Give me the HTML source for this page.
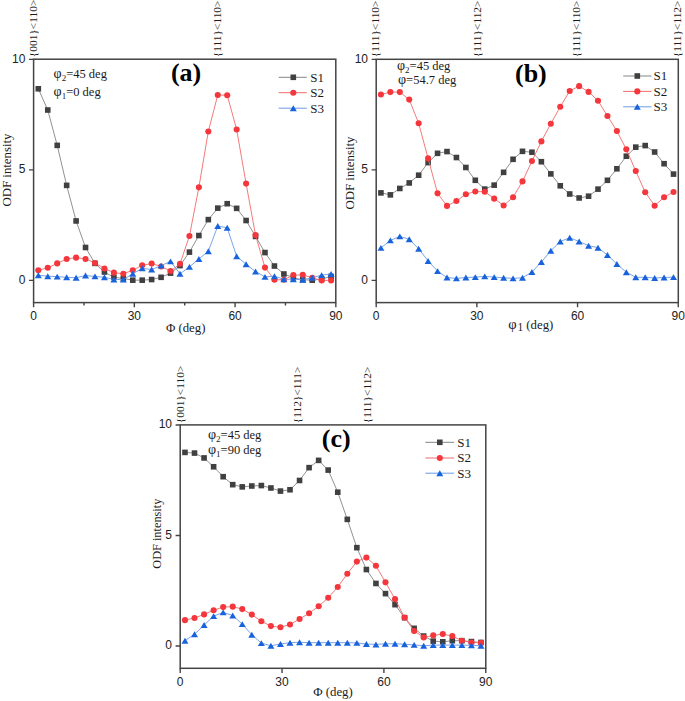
<!DOCTYPE html>
<html><head><meta charset="utf-8"><style>html,body{margin:0;padding:0;background:#fff}body{width:685px;height:701px;overflow:hidden}svg{display:block}</style></head><body>
<svg width="685" height="701" viewBox="0 0 685 701">
<style>text{font-family:"Liberation Serif",serif;fill:#1a1a1a}.tl{font-family:"Liberation Sans",sans-serif;font-size:12px;fill:#222}.ann{font-size:11.4px}.lab{font-size:12.8px}.big{font-size:26px;font-weight:bold;fill:#000}.leg{font-size:13px}.par{font-size:12.5px}</style>
<rect width="685" height="701" fill="#fff"/>
<polyline fill="none" stroke="#858585" stroke-width="0.9" points="38.32,88.79 47.77,110.01 57.21,145.37 66.66,185.37 76.1,220.95 85.54,247.47 94.99,263.38 104.43,272 113.88,277.31 123.32,278.41 132.77,280.18 142.21,280.18 151.65,279.52 161.1,277.31 170.54,273.11 179.99,265.59 189.43,252.11 198.88,235.54 208.32,219.62 217.77,208.13 227.21,203.71 236.65,208.35 246.1,220.51 255.54,236.42 264.99,252.55 274.43,266.03 283.88,273.99 293.32,277.75 302.76,279.74 312.21,280.18 321.65,279.07 331.1,276.42"/>
<rect x="35.52" y="85.99" width="5.6" height="5.6" fill="#404040"/><rect x="44.97" y="107.21" width="5.6" height="5.6" fill="#404040"/><rect x="54.41" y="142.57" width="5.6" height="5.6" fill="#404040"/><rect x="63.86" y="182.57" width="5.6" height="5.6" fill="#404040"/><rect x="73.3" y="218.15" width="5.6" height="5.6" fill="#404040"/><rect x="82.74" y="244.67" width="5.6" height="5.6" fill="#404040"/><rect x="92.19" y="260.58" width="5.6" height="5.6" fill="#404040"/><rect x="101.63" y="269.2" width="5.6" height="5.6" fill="#404040"/><rect x="111.08" y="274.51" width="5.6" height="5.6" fill="#404040"/><rect x="120.52" y="275.61" width="5.6" height="5.6" fill="#404040"/><rect x="129.97" y="277.38" width="5.6" height="5.6" fill="#404040"/><rect x="139.41" y="277.38" width="5.6" height="5.6" fill="#404040"/><rect x="148.85" y="276.72" width="5.6" height="5.6" fill="#404040"/><rect x="158.3" y="274.51" width="5.6" height="5.6" fill="#404040"/><rect x="167.74" y="270.31" width="5.6" height="5.6" fill="#404040"/><rect x="177.19" y="262.79" width="5.6" height="5.6" fill="#404040"/><rect x="186.63" y="249.31" width="5.6" height="5.6" fill="#404040"/><rect x="196.08" y="232.74" width="5.6" height="5.6" fill="#404040"/><rect x="205.52" y="216.82" width="5.6" height="5.6" fill="#404040"/><rect x="214.97" y="205.33" width="5.6" height="5.6" fill="#404040"/><rect x="224.41" y="200.91" width="5.6" height="5.6" fill="#404040"/><rect x="233.85" y="205.55" width="5.6" height="5.6" fill="#404040"/><rect x="243.3" y="217.71" width="5.6" height="5.6" fill="#404040"/><rect x="252.74" y="233.62" width="5.6" height="5.6" fill="#404040"/><rect x="262.19" y="249.75" width="5.6" height="5.6" fill="#404040"/><rect x="271.63" y="263.23" width="5.6" height="5.6" fill="#404040"/><rect x="281.08" y="271.19" width="5.6" height="5.6" fill="#404040"/><rect x="290.52" y="274.95" width="5.6" height="5.6" fill="#404040"/><rect x="299.96" y="276.94" width="5.6" height="5.6" fill="#404040"/><rect x="309.41" y="277.38" width="5.6" height="5.6" fill="#404040"/><rect x="318.85" y="276.27" width="5.6" height="5.6" fill="#404040"/><rect x="328.3" y="273.62" width="5.6" height="5.6" fill="#404040"/>
<polyline fill="none" stroke="#f36a6a" stroke-width="0.9" points="38.32,270.23 47.77,267.8 57.21,263.38 66.66,258.96 76.1,257.64 85.54,258.96 94.99,262.94 104.43,268.47 113.88,272.66 123.32,273.77 132.77,270.23 142.21,265.37 151.65,263.6 161.1,266.48 170.54,271.12 179.99,263.82 189.43,235.98 198.88,187.36 208.32,131.45 217.77,94.98 227.21,95.2 236.65,129.46 246.1,183.6 255.54,235.09 264.99,267.58 274.43,279.74 283.88,279.74 293.32,275.1 302.76,274.88 312.21,277.75 321.65,280.4 331.1,280.4"/>
<circle cx="38.32" cy="270.23" r="3.05" fill="#f4373c"/><circle cx="47.77" cy="267.8" r="3.05" fill="#f4373c"/><circle cx="57.21" cy="263.38" r="3.05" fill="#f4373c"/><circle cx="66.66" cy="258.96" r="3.05" fill="#f4373c"/><circle cx="76.1" cy="257.64" r="3.05" fill="#f4373c"/><circle cx="85.54" cy="258.96" r="3.05" fill="#f4373c"/><circle cx="94.99" cy="262.94" r="3.05" fill="#f4373c"/><circle cx="104.43" cy="268.47" r="3.05" fill="#f4373c"/><circle cx="113.88" cy="272.66" r="3.05" fill="#f4373c"/><circle cx="123.32" cy="273.77" r="3.05" fill="#f4373c"/><circle cx="132.77" cy="270.23" r="3.05" fill="#f4373c"/><circle cx="142.21" cy="265.37" r="3.05" fill="#f4373c"/><circle cx="151.65" cy="263.6" r="3.05" fill="#f4373c"/><circle cx="161.1" cy="266.48" r="3.05" fill="#f4373c"/><circle cx="170.54" cy="271.12" r="3.05" fill="#f4373c"/><circle cx="179.99" cy="263.82" r="3.05" fill="#f4373c"/><circle cx="189.43" cy="235.98" r="3.05" fill="#f4373c"/><circle cx="198.88" cy="187.36" r="3.05" fill="#f4373c"/><circle cx="208.32" cy="131.45" r="3.05" fill="#f4373c"/><circle cx="217.77" cy="94.98" r="3.05" fill="#f4373c"/><circle cx="227.21" cy="95.2" r="3.05" fill="#f4373c"/><circle cx="236.65" cy="129.46" r="3.05" fill="#f4373c"/><circle cx="246.1" cy="183.6" r="3.05" fill="#f4373c"/><circle cx="255.54" cy="235.09" r="3.05" fill="#f4373c"/><circle cx="264.99" cy="267.58" r="3.05" fill="#f4373c"/><circle cx="274.43" cy="279.74" r="3.05" fill="#f4373c"/><circle cx="283.88" cy="279.74" r="3.05" fill="#f4373c"/><circle cx="293.32" cy="275.1" r="3.05" fill="#f4373c"/><circle cx="302.76" cy="274.88" r="3.05" fill="#f4373c"/><circle cx="312.21" cy="277.75" r="3.05" fill="#f4373c"/><circle cx="321.65" cy="280.4" r="3.05" fill="#f4373c"/><circle cx="331.1" cy="280.4" r="3.05" fill="#f4373c"/>
<polyline fill="none" stroke="#6a9ae8" stroke-width="0.9" points="38.32,275.32 47.77,276.2 57.21,276.64 66.66,277.31 76.1,277.75 85.54,275.54 94.99,276.42 104.43,277.31 113.88,279.52 123.32,279.52 132.77,273.77 142.21,268.25 151.65,269.57 161.1,265.59 170.54,261.39 179.99,273.77 189.43,266.92 198.88,258.96 208.32,251.23 217.77,226.03 227.21,227.8 236.65,256.31 246.1,264.27 255.54,271.56 264.99,276.86 274.43,276.2 283.88,279.29 293.32,279.29 302.76,279.74 312.21,277.75 321.65,275.1 331.1,273.99"/>
<path d="M38.32 272.37L41.82 278.27L34.82 278.27Z" fill="#1863dc"/><path d="M47.77 273.25L51.27 279.15L44.27 279.15Z" fill="#1863dc"/><path d="M57.21 273.69L60.71 279.59L53.71 279.59Z" fill="#1863dc"/><path d="M66.66 274.36L70.16 280.26L63.16 280.26Z" fill="#1863dc"/><path d="M76.1 274.8L79.6 280.7L72.6 280.7Z" fill="#1863dc"/><path d="M85.54 272.59L89.04 278.49L82.04 278.49Z" fill="#1863dc"/><path d="M94.99 273.47L98.49 279.37L91.49 279.37Z" fill="#1863dc"/><path d="M104.43 274.36L107.93 280.26L100.93 280.26Z" fill="#1863dc"/><path d="M113.88 276.57L117.38 282.47L110.38 282.47Z" fill="#1863dc"/><path d="M123.32 276.57L126.82 282.47L119.82 282.47Z" fill="#1863dc"/><path d="M132.77 270.82L136.27 276.72L129.27 276.72Z" fill="#1863dc"/><path d="M142.21 265.3L145.71 271.19L138.71 271.19Z" fill="#1863dc"/><path d="M151.65 266.62L155.15 272.52L148.15 272.52Z" fill="#1863dc"/><path d="M161.1 262.64L164.6 268.54L157.6 268.54Z" fill="#1863dc"/><path d="M170.54 258.44L174.04 264.34L167.04 264.34Z" fill="#1863dc"/><path d="M179.99 270.82L183.49 276.72L176.49 276.72Z" fill="#1863dc"/><path d="M189.43 263.97L192.93 269.87L185.93 269.87Z" fill="#1863dc"/><path d="M198.88 256.01L202.38 261.91L195.38 261.91Z" fill="#1863dc"/><path d="M208.32 248.28L211.82 254.18L204.82 254.18Z" fill="#1863dc"/><path d="M217.77 223.08L221.27 228.98L214.27 228.98Z" fill="#1863dc"/><path d="M227.21 224.85L230.71 230.75L223.71 230.75Z" fill="#1863dc"/><path d="M236.65 253.36L240.15 259.26L233.15 259.26Z" fill="#1863dc"/><path d="M246.1 261.32L249.6 267.22L242.6 267.22Z" fill="#1863dc"/><path d="M255.54 268.61L259.04 274.51L252.04 274.51Z" fill="#1863dc"/><path d="M264.99 273.91L268.49 279.81L261.49 279.81Z" fill="#1863dc"/><path d="M274.43 273.25L277.93 279.15L270.93 279.15Z" fill="#1863dc"/><path d="M283.88 276.34L287.38 282.24L280.38 282.24Z" fill="#1863dc"/><path d="M293.32 276.34L296.82 282.24L289.82 282.24Z" fill="#1863dc"/><path d="M302.76 276.79L306.26 282.69L299.26 282.69Z" fill="#1863dc"/><path d="M312.21 274.8L315.71 280.7L308.71 280.7Z" fill="#1863dc"/><path d="M321.65 272.15L325.15 278.05L318.15 278.05Z" fill="#1863dc"/><path d="M331.1 271.04L334.6 276.94L327.6 276.94Z" fill="#1863dc"/>
<rect x="33.6" y="59.2" width="302.2" height="243.4" fill="none" stroke="#444444" stroke-width="1.5"/>
<path d="M33.6 302.6V307.2M134.34 302.6V307.2M235.08 302.6V307.2M335.82 302.6V307.2M83.97 302.6V305.4M184.71 302.6V305.4M285.45 302.6V305.4M33.6 280.4H29M33.6 169.9H29M33.6 59.4H29" stroke="#444444" stroke-width="1.4" fill="none"/>
<text x="33.6" y="319.9" class="tl" text-anchor="middle">0</text>
<text x="134.34" y="319.9" class="tl" text-anchor="middle">30</text>
<text x="235.08" y="319.9" class="tl" text-anchor="middle">60</text>
<text x="335.82" y="319.9" class="tl" text-anchor="middle">90</text>
<text x="25.4" y="283.8" class="tl" text-anchor="end">0</text>
<text x="25.4" y="173.3" class="tl" text-anchor="end">5</text>
<text x="25.4" y="62.8" class="tl" text-anchor="end">10</text>
<polyline fill="none" stroke="#858585" stroke-width="0.9" points="380.92,192.88 390.36,194.87 399.8,188.46 409.24,182.94 418.67,175.2 428.11,162.61 437.55,153.32 446.99,151.56 456.43,157.52 465.87,167.47 475.31,180.29 484.75,189.13 494.18,185.15 503.62,172.33 513.06,159.29 522.5,151.34 531.94,152.22 541.38,161.72 550.82,173.88 560.26,185.81 569.69,193.99 579.13,197.97 588.57,196.2 598.01,189.13 607.45,180.29 616.89,168.79 626.33,156.2 635.77,147.14 645.2,145.59 654.64,152 664.08,163.71 673.52,174.1"/>
<rect x="378.12" y="190.08" width="5.6" height="5.6" fill="#404040"/><rect x="387.56" y="192.07" width="5.6" height="5.6" fill="#404040"/><rect x="397" y="185.66" width="5.6" height="5.6" fill="#404040"/><rect x="406.44" y="180.14" width="5.6" height="5.6" fill="#404040"/><rect x="415.87" y="172.4" width="5.6" height="5.6" fill="#404040"/><rect x="425.31" y="159.81" width="5.6" height="5.6" fill="#404040"/><rect x="434.75" y="150.52" width="5.6" height="5.6" fill="#404040"/><rect x="444.19" y="148.76" width="5.6" height="5.6" fill="#404040"/><rect x="453.63" y="154.72" width="5.6" height="5.6" fill="#404040"/><rect x="463.07" y="164.67" width="5.6" height="5.6" fill="#404040"/><rect x="472.51" y="177.49" width="5.6" height="5.6" fill="#404040"/><rect x="481.95" y="186.33" width="5.6" height="5.6" fill="#404040"/><rect x="491.38" y="182.35" width="5.6" height="5.6" fill="#404040"/><rect x="500.82" y="169.53" width="5.6" height="5.6" fill="#404040"/><rect x="510.26" y="156.49" width="5.6" height="5.6" fill="#404040"/><rect x="519.7" y="148.54" width="5.6" height="5.6" fill="#404040"/><rect x="529.14" y="149.42" width="5.6" height="5.6" fill="#404040"/><rect x="538.58" y="158.92" width="5.6" height="5.6" fill="#404040"/><rect x="548.02" y="171.08" width="5.6" height="5.6" fill="#404040"/><rect x="557.46" y="183.01" width="5.6" height="5.6" fill="#404040"/><rect x="566.89" y="191.19" width="5.6" height="5.6" fill="#404040"/><rect x="576.33" y="195.17" width="5.6" height="5.6" fill="#404040"/><rect x="585.77" y="193.4" width="5.6" height="5.6" fill="#404040"/><rect x="595.21" y="186.33" width="5.6" height="5.6" fill="#404040"/><rect x="604.65" y="177.49" width="5.6" height="5.6" fill="#404040"/><rect x="614.09" y="165.99" width="5.6" height="5.6" fill="#404040"/><rect x="623.53" y="153.4" width="5.6" height="5.6" fill="#404040"/><rect x="632.97" y="144.34" width="5.6" height="5.6" fill="#404040"/><rect x="642.4" y="142.79" width="5.6" height="5.6" fill="#404040"/><rect x="651.84" y="149.2" width="5.6" height="5.6" fill="#404040"/><rect x="661.28" y="160.91" width="5.6" height="5.6" fill="#404040"/><rect x="670.72" y="171.3" width="5.6" height="5.6" fill="#404040"/>
<polyline fill="none" stroke="#f36a6a" stroke-width="0.9" points="380.92,94.54 390.36,92.11 399.8,92.11 409.24,99.62 418.67,123.27 428.11,158.41 437.55,193.33 446.99,205.92 456.43,201.06 465.87,194.21 475.31,191.56 484.75,191.78 494.18,198.63 503.62,205.48 513.06,197.3 522.5,181.39 531.94,161.06 541.38,141.39 550.82,123.71 560.26,106.69 569.69,91 579.13,86.14 588.57,91.89 598.01,100.73 607.45,115.98 616.89,131 626.33,149.35 635.77,171 645.2,192.22 654.64,205.7 664.08,197.3 673.52,192"/>
<circle cx="380.92" cy="94.54" r="3.05" fill="#f4373c"/><circle cx="390.36" cy="92.11" r="3.05" fill="#f4373c"/><circle cx="399.8" cy="92.11" r="3.05" fill="#f4373c"/><circle cx="409.24" cy="99.62" r="3.05" fill="#f4373c"/><circle cx="418.67" cy="123.27" r="3.05" fill="#f4373c"/><circle cx="428.11" cy="158.41" r="3.05" fill="#f4373c"/><circle cx="437.55" cy="193.33" r="3.05" fill="#f4373c"/><circle cx="446.99" cy="205.92" r="3.05" fill="#f4373c"/><circle cx="456.43" cy="201.06" r="3.05" fill="#f4373c"/><circle cx="465.87" cy="194.21" r="3.05" fill="#f4373c"/><circle cx="475.31" cy="191.56" r="3.05" fill="#f4373c"/><circle cx="484.75" cy="191.78" r="3.05" fill="#f4373c"/><circle cx="494.18" cy="198.63" r="3.05" fill="#f4373c"/><circle cx="503.62" cy="205.48" r="3.05" fill="#f4373c"/><circle cx="513.06" cy="197.3" r="3.05" fill="#f4373c"/><circle cx="522.5" cy="181.39" r="3.05" fill="#f4373c"/><circle cx="531.94" cy="161.06" r="3.05" fill="#f4373c"/><circle cx="541.38" cy="141.39" r="3.05" fill="#f4373c"/><circle cx="550.82" cy="123.71" r="3.05" fill="#f4373c"/><circle cx="560.26" cy="106.69" r="3.05" fill="#f4373c"/><circle cx="569.69" cy="91" r="3.05" fill="#f4373c"/><circle cx="579.13" cy="86.14" r="3.05" fill="#f4373c"/><circle cx="588.57" cy="91.89" r="3.05" fill="#f4373c"/><circle cx="598.01" cy="100.73" r="3.05" fill="#f4373c"/><circle cx="607.45" cy="115.98" r="3.05" fill="#f4373c"/><circle cx="616.89" cy="131" r="3.05" fill="#f4373c"/><circle cx="626.33" cy="149.35" r="3.05" fill="#f4373c"/><circle cx="635.77" cy="171" r="3.05" fill="#f4373c"/><circle cx="645.2" cy="192.22" r="3.05" fill="#f4373c"/><circle cx="654.64" cy="205.7" r="3.05" fill="#f4373c"/><circle cx="664.08" cy="197.3" r="3.05" fill="#f4373c"/><circle cx="673.52" cy="192" r="3.05" fill="#f4373c"/>
<polyline fill="none" stroke="#6a9ae8" stroke-width="0.9" points="380.92,247.91 390.36,240.4 399.8,236.42 409.24,239.29 418.67,248.8 428.11,260.95 437.55,271.12 446.99,277.53 456.43,278.41 465.87,277.53 475.31,277.08 484.75,276.42 494.18,277.08 503.62,277.75 513.06,278.41 522.5,277.75 531.94,272 541.38,262.06 550.82,250.79 560.26,241.5 569.69,237.75 579.13,241.5 588.57,245.7 598.01,247.69 607.45,254.98 616.89,264.05 626.33,272.22 635.77,277.31 645.2,277.31 654.64,277.97 664.08,277.53 673.52,277.08"/>
<path d="M380.92 244.96L384.42 250.86L377.42 250.86Z" fill="#1863dc"/><path d="M390.36 237.45L393.86 243.35L386.86 243.35Z" fill="#1863dc"/><path d="M399.8 233.47L403.3 239.37L396.3 239.37Z" fill="#1863dc"/><path d="M409.24 236.34L412.74 242.24L405.74 242.24Z" fill="#1863dc"/><path d="M418.67 245.85L422.17 251.75L415.17 251.75Z" fill="#1863dc"/><path d="M428.11 258L431.61 263.9L424.61 263.9Z" fill="#1863dc"/><path d="M437.55 268.17L441.05 274.07L434.05 274.07Z" fill="#1863dc"/><path d="M446.99 274.58L450.49 280.48L443.49 280.48Z" fill="#1863dc"/><path d="M456.43 275.46L459.93 281.36L452.93 281.36Z" fill="#1863dc"/><path d="M465.87 274.58L469.37 280.48L462.37 280.48Z" fill="#1863dc"/><path d="M475.31 274.13L478.81 280.03L471.81 280.03Z" fill="#1863dc"/><path d="M484.75 273.47L488.25 279.37L481.25 279.37Z" fill="#1863dc"/><path d="M494.18 274.13L497.68 280.03L490.68 280.03Z" fill="#1863dc"/><path d="M503.62 274.8L507.12 280.7L500.12 280.7Z" fill="#1863dc"/><path d="M513.06 275.46L516.56 281.36L509.56 281.36Z" fill="#1863dc"/><path d="M522.5 274.8L526 280.7L519 280.7Z" fill="#1863dc"/><path d="M531.94 269.05L535.44 274.95L528.44 274.95Z" fill="#1863dc"/><path d="M541.38 259.11L544.88 265.01L537.88 265.01Z" fill="#1863dc"/><path d="M550.82 247.84L554.32 253.74L547.32 253.74Z" fill="#1863dc"/><path d="M560.26 238.55L563.76 244.45L556.76 244.45Z" fill="#1863dc"/><path d="M569.69 234.8L573.19 240.7L566.19 240.7Z" fill="#1863dc"/><path d="M579.13 238.55L582.63 244.45L575.63 244.45Z" fill="#1863dc"/><path d="M588.57 242.75L592.07 248.65L585.07 248.65Z" fill="#1863dc"/><path d="M598.01 244.74L601.51 250.64L594.51 250.64Z" fill="#1863dc"/><path d="M607.45 252.03L610.95 257.94L603.95 257.94Z" fill="#1863dc"/><path d="M616.89 261.1L620.39 267L613.39 267Z" fill="#1863dc"/><path d="M626.33 269.27L629.83 275.17L622.83 275.17Z" fill="#1863dc"/><path d="M635.77 274.36L639.27 280.26L632.27 280.26Z" fill="#1863dc"/><path d="M645.2 274.36L648.7 280.26L641.7 280.26Z" fill="#1863dc"/><path d="M654.64 275.02L658.14 280.92L651.14 280.92Z" fill="#1863dc"/><path d="M664.08 274.58L667.58 280.48L660.58 280.48Z" fill="#1863dc"/><path d="M673.52 274.13L677.02 280.03L670.02 280.03Z" fill="#1863dc"/>
<rect x="376.2" y="59.3" width="302.1" height="243.3" fill="none" stroke="#444444" stroke-width="1.5"/>
<path d="M376.2 302.6V307.2M476.88 302.6V307.2M577.56 302.6V307.2M678.24 302.6V307.2M376.2 280.4H371.6M376.2 169.9H371.6M376.2 59.4H371.6" stroke="#444444" stroke-width="1.4" fill="none"/>
<text x="376.2" y="319.9" class="tl" text-anchor="middle">0</text>
<text x="476.88" y="319.9" class="tl" text-anchor="middle">30</text>
<text x="577.56" y="319.9" class="tl" text-anchor="middle">60</text>
<text x="678.24" y="319.9" class="tl" text-anchor="middle">90</text>
<text x="368" y="283.8" class="tl" text-anchor="end">0</text>
<text x="368" y="173.3" class="tl" text-anchor="end">5</text>
<text x="368" y="62.8" class="tl" text-anchor="end">10</text>
<polyline fill="none" stroke="#858585" stroke-width="0.9" points="184.97,452.4 194.52,453.07 204.07,457.93 213.62,466.77 223.17,476.71 232.72,484.67 242.26,486.88 251.81,486 261.36,485.55 270.91,487.99 280.46,491.08 290.01,489.75 299.56,480.47 309.1,467.65 318.65,460.36 328.2,470.08 337.75,492.18 347.3,519.37 356.85,547.65 366.39,569.53 375.94,583.46 385.49,593.62 395.04,604.67 404.59,617.71 414.14,628.32 423.69,636.05 433.23,641.14 442.78,641.8 452.33,640.7 461.88,640.7 471.43,641.58 480.98,642.46"/>
<rect x="182.17" y="449.6" width="5.6" height="5.6" fill="#404040"/><rect x="191.72" y="450.27" width="5.6" height="5.6" fill="#404040"/><rect x="201.27" y="455.13" width="5.6" height="5.6" fill="#404040"/><rect x="210.82" y="463.97" width="5.6" height="5.6" fill="#404040"/><rect x="220.37" y="473.91" width="5.6" height="5.6" fill="#404040"/><rect x="229.92" y="481.87" width="5.6" height="5.6" fill="#404040"/><rect x="239.46" y="484.08" width="5.6" height="5.6" fill="#404040"/><rect x="249.01" y="483.2" width="5.6" height="5.6" fill="#404040"/><rect x="258.56" y="482.75" width="5.6" height="5.6" fill="#404040"/><rect x="268.11" y="485.19" width="5.6" height="5.6" fill="#404040"/><rect x="277.66" y="488.28" width="5.6" height="5.6" fill="#404040"/><rect x="287.21" y="486.95" width="5.6" height="5.6" fill="#404040"/><rect x="296.76" y="477.67" width="5.6" height="5.6" fill="#404040"/><rect x="306.3" y="464.85" width="5.6" height="5.6" fill="#404040"/><rect x="315.85" y="457.56" width="5.6" height="5.6" fill="#404040"/><rect x="325.4" y="467.28" width="5.6" height="5.6" fill="#404040"/><rect x="334.95" y="489.38" width="5.6" height="5.6" fill="#404040"/><rect x="344.5" y="516.57" width="5.6" height="5.6" fill="#404040"/><rect x="354.05" y="544.86" width="5.6" height="5.6" fill="#404040"/><rect x="363.59" y="566.73" width="5.6" height="5.6" fill="#404040"/><rect x="373.14" y="580.66" width="5.6" height="5.6" fill="#404040"/><rect x="382.69" y="590.82" width="5.6" height="5.6" fill="#404040"/><rect x="392.24" y="601.87" width="5.6" height="5.6" fill="#404040"/><rect x="401.79" y="614.91" width="5.6" height="5.6" fill="#404040"/><rect x="411.34" y="625.52" width="5.6" height="5.6" fill="#404040"/><rect x="420.89" y="633.25" width="5.6" height="5.6" fill="#404040"/><rect x="430.43" y="638.34" width="5.6" height="5.6" fill="#404040"/><rect x="439.98" y="639" width="5.6" height="5.6" fill="#404040"/><rect x="449.53" y="637.9" width="5.6" height="5.6" fill="#404040"/><rect x="459.08" y="637.9" width="5.6" height="5.6" fill="#404040"/><rect x="468.63" y="638.78" width="5.6" height="5.6" fill="#404040"/><rect x="478.18" y="639.66" width="5.6" height="5.6" fill="#404040"/>
<polyline fill="none" stroke="#f36a6a" stroke-width="0.9" points="184.97,620.14 194.52,617.93 204.07,614.4 213.62,610.2 223.17,607.1 232.72,606.66 242.26,609.09 251.81,614.62 261.36,621.25 270.91,626.11 280.46,627.22 290.01,624.56 299.56,619.04 309.1,613.29 318.65,606.22 328.2,597.82 337.75,586.99 347.3,573.73 356.85,561.58 366.39,557.6 375.94,565.78 385.49,582.35 395.04,599.15 404.59,617.49 414.14,630.97 423.69,637.38 433.23,635.39 442.78,634.07 452.33,636.05 461.88,640.7 471.43,642.46 480.98,642.91"/>
<circle cx="184.97" cy="620.14" r="3.05" fill="#f4373c"/><circle cx="194.52" cy="617.93" r="3.05" fill="#f4373c"/><circle cx="204.07" cy="614.4" r="3.05" fill="#f4373c"/><circle cx="213.62" cy="610.2" r="3.05" fill="#f4373c"/><circle cx="223.17" cy="607.1" r="3.05" fill="#f4373c"/><circle cx="232.72" cy="606.66" r="3.05" fill="#f4373c"/><circle cx="242.26" cy="609.09" r="3.05" fill="#f4373c"/><circle cx="251.81" cy="614.62" r="3.05" fill="#f4373c"/><circle cx="261.36" cy="621.25" r="3.05" fill="#f4373c"/><circle cx="270.91" cy="626.11" r="3.05" fill="#f4373c"/><circle cx="280.46" cy="627.22" r="3.05" fill="#f4373c"/><circle cx="290.01" cy="624.56" r="3.05" fill="#f4373c"/><circle cx="299.56" cy="619.04" r="3.05" fill="#f4373c"/><circle cx="309.1" cy="613.29" r="3.05" fill="#f4373c"/><circle cx="318.65" cy="606.22" r="3.05" fill="#f4373c"/><circle cx="328.2" cy="597.82" r="3.05" fill="#f4373c"/><circle cx="337.75" cy="586.99" r="3.05" fill="#f4373c"/><circle cx="347.3" cy="573.73" r="3.05" fill="#f4373c"/><circle cx="356.85" cy="561.58" r="3.05" fill="#f4373c"/><circle cx="366.39" cy="557.6" r="3.05" fill="#f4373c"/><circle cx="375.94" cy="565.78" r="3.05" fill="#f4373c"/><circle cx="385.49" cy="582.35" r="3.05" fill="#f4373c"/><circle cx="395.04" cy="599.15" r="3.05" fill="#f4373c"/><circle cx="404.59" cy="617.49" r="3.05" fill="#f4373c"/><circle cx="414.14" cy="630.97" r="3.05" fill="#f4373c"/><circle cx="423.69" cy="637.38" r="3.05" fill="#f4373c"/><circle cx="433.23" cy="635.39" r="3.05" fill="#f4373c"/><circle cx="442.78" cy="634.07" r="3.05" fill="#f4373c"/><circle cx="452.33" cy="636.05" r="3.05" fill="#f4373c"/><circle cx="461.88" cy="640.7" r="3.05" fill="#f4373c"/><circle cx="471.43" cy="642.46" r="3.05" fill="#f4373c"/><circle cx="480.98" cy="642.91" r="3.05" fill="#f4373c"/>
<polyline fill="none" stroke="#6a9ae8" stroke-width="0.9" points="184.97,640.7 194.52,634.29 204.07,625 213.62,616.16 223.17,612.41 232.72,615.5 242.26,624.12 251.81,634.73 261.36,643.13 270.91,645.78 280.46,644.01 290.01,642.68 299.56,642.24 309.1,642.68 318.65,642.68 328.2,642.68 337.75,642.68 347.3,642.68 356.85,642.91 366.39,644.01 375.94,644.45 385.49,643.79 395.04,643.79 404.59,644.23 414.14,644.89 423.69,645.78 433.23,645.12 442.78,645.12 452.33,645.12 461.88,645.12 471.43,645.34 480.98,645.78"/>
<path d="M184.97 637.75L188.47 643.65L181.47 643.65Z" fill="#1863dc"/><path d="M194.52 631.34L198.02 637.24L191.02 637.24Z" fill="#1863dc"/><path d="M204.07 622.05L207.57 627.96L200.57 627.96Z" fill="#1863dc"/><path d="M213.62 613.21L217.12 619.12L210.12 619.12Z" fill="#1863dc"/><path d="M223.17 609.46L226.67 615.36L219.67 615.36Z" fill="#1863dc"/><path d="M232.72 612.55L236.22 618.45L229.22 618.45Z" fill="#1863dc"/><path d="M242.26 621.17L245.76 627.07L238.76 627.07Z" fill="#1863dc"/><path d="M251.81 631.78L255.31 637.68L248.31 637.68Z" fill="#1863dc"/><path d="M261.36 640.18L264.86 646.08L257.86 646.08Z" fill="#1863dc"/><path d="M270.91 642.83L274.41 648.73L267.41 648.73Z" fill="#1863dc"/><path d="M280.46 641.06L283.96 646.96L276.96 646.96Z" fill="#1863dc"/><path d="M290.01 639.73L293.51 645.63L286.51 645.63Z" fill="#1863dc"/><path d="M299.56 639.29L303.06 645.19L296.06 645.19Z" fill="#1863dc"/><path d="M309.1 639.73L312.6 645.63L305.6 645.63Z" fill="#1863dc"/><path d="M318.65 639.73L322.15 645.63L315.15 645.63Z" fill="#1863dc"/><path d="M328.2 639.73L331.7 645.63L324.7 645.63Z" fill="#1863dc"/><path d="M337.75 639.73L341.25 645.63L334.25 645.63Z" fill="#1863dc"/><path d="M347.3 639.73L350.8 645.63L343.8 645.63Z" fill="#1863dc"/><path d="M356.85 639.96L360.35 645.86L353.35 645.86Z" fill="#1863dc"/><path d="M366.39 641.06L369.89 646.96L362.89 646.96Z" fill="#1863dc"/><path d="M375.94 641.5L379.44 647.4L372.44 647.4Z" fill="#1863dc"/><path d="M385.49 640.84L388.99 646.74L381.99 646.74Z" fill="#1863dc"/><path d="M395.04 640.84L398.54 646.74L391.54 646.74Z" fill="#1863dc"/><path d="M404.59 641.28L408.09 647.18L401.09 647.18Z" fill="#1863dc"/><path d="M414.14 641.94L417.64 647.85L410.64 647.85Z" fill="#1863dc"/><path d="M423.69 642.83L427.19 648.73L420.19 648.73Z" fill="#1863dc"/><path d="M433.23 642.17L436.73 648.07L429.73 648.07Z" fill="#1863dc"/><path d="M442.78 642.17L446.28 648.07L439.28 648.07Z" fill="#1863dc"/><path d="M452.33 642.17L455.83 648.07L448.83 648.07Z" fill="#1863dc"/><path d="M461.88 642.17L465.38 648.07L458.38 648.07Z" fill="#1863dc"/><path d="M471.43 642.39L474.93 648.29L467.93 648.29Z" fill="#1863dc"/><path d="M480.98 642.83L484.48 648.73L477.48 648.73Z" fill="#1863dc"/>
<rect x="180.2" y="424.9" width="305.6" height="243.4" fill="none" stroke="#444444" stroke-width="1.5"/>
<path d="M180.2 668.3V672.9M282.05 668.3V672.9M383.9 668.3V672.9M485.75 668.3V672.9M180.2 646H175.6M180.2 535.5H175.6M180.2 425H175.6" stroke="#444444" stroke-width="1.4" fill="none"/>
<text x="180.2" y="685.6" class="tl" text-anchor="middle">0</text>
<text x="282.05" y="685.6" class="tl" text-anchor="middle">30</text>
<text x="383.9" y="685.6" class="tl" text-anchor="middle">60</text>
<text x="485.75" y="685.6" class="tl" text-anchor="middle">90</text>
<text x="172" y="649.4" class="tl" text-anchor="end">0</text>
<text x="172" y="538.9" class="tl" text-anchor="end">5</text>
<text x="172" y="428.4" class="tl" text-anchor="end">10</text>
<text class="ann" transform="translate(37.4 57.2) rotate(-90)" x="0" y="0">{001}&lt;110&gt;</text>
<text class="ann" transform="translate(221.2 57.2) rotate(-90)" x="0" y="0">{111}&lt;110&gt;</text>
<text class="ann" transform="translate(378.8 57.2) rotate(-90)" x="0" y="0">{111}&lt;110&gt;</text>
<text class="ann" transform="translate(480.8 57.2) rotate(-90)" x="0" y="0">{111}&lt;112&gt;</text>
<text class="ann" transform="translate(580.2 57.2) rotate(-90)" x="0" y="0">{111}&lt;110&gt;</text>
<text class="ann" transform="translate(681.1 57.2) rotate(-90)" x="0" y="0">{111}&lt;112&gt;</text>
<text class="ann" transform="translate(183.9 423.2) rotate(-90)" x="0" y="0">{001}&lt;110&gt;</text>
<text class="ann" transform="translate(300.9 423.2) rotate(-90)" x="0" y="0">{112}&lt;111&gt;</text>
<text class="ann" transform="translate(371.2 423.2) rotate(-90)" x="0" y="0">{111}&lt;112&gt;</text>
<text class="lab" style="font-size:12.8px" text-anchor="middle" transform="translate(11 170) rotate(-90)">ODF intensity</text>
<text class="lab" style="font-size:12.8px" text-anchor="middle" transform="translate(354.2 173) rotate(-90)">ODF intensity</text>
<text class="lab" style="font-size:12.3px" text-anchor="middle" transform="translate(160.8 533.7) rotate(-90)">ODF intensity</text>
<text class="lab" x="185.7" y="331.5" text-anchor="middle">&#934; (deg)</text>
<text class="lab" x="508.2" y="328.8"><tspan font-size="14.5px">&#966;</tspan><tspan font-size="11.5px" dx="0.8" dy="2.6">1</tspan><tspan dy="-2.6"> (deg)</tspan></text>
<text class="lab" x="333" y="695.5" text-anchor="middle">&#934; (deg)</text>
<text class="big" x="186.1" y="81.2" text-anchor="middle">(a)</text>
<text class="big" x="530.9" y="81.5" text-anchor="middle">(b)</text>
<text class="big" x="336.2" y="447.4" text-anchor="middle">(c)</text>
<text class="par" x="53.6" y="78"><tspan font-size="14px">&#966;</tspan><tspan font-size="9px" dy="3">2</tspan><tspan dy="-3">=45 deg</tspan></text>
<text class="par" x="53.6" y="95.8"><tspan font-size="14px">&#966;</tspan><tspan font-size="9px" dy="3">1</tspan><tspan dy="-3">=0 deg</tspan></text>
<text class="par" x="397" y="69.7"><tspan font-size="14px">&#966;</tspan><tspan font-size="9px" dy="3">2</tspan><tspan dy="-3">=45 deg</tspan></text>
<text class="par" x="398" y="83.6"><tspan font-size="14px">&#966;</tspan>=54.7 deg</text>
<text class="par" x="208" y="438.8"><tspan font-size="14px">&#966;</tspan><tspan font-size="9px" dy="3">2</tspan><tspan dy="-3">=45 deg</tspan></text>
<text class="par" x="208" y="454.1"><tspan font-size="14px">&#966;</tspan><tspan font-size="9px" dy="3">1</tspan><tspan dy="-3">=90 deg</tspan></text>
<path d="M278.7 77.3H306.8" stroke="#858585" stroke-width="1"/>
<rect x="290.5" y="74.5" width="5.6" height="5.6" fill="#404040"/>
<text class="leg" x="310.2" y="81.7">S1</text>
<path d="M278.7 92.7H306.8" stroke="#f36a6a" stroke-width="1"/>
<circle cx="293.3" cy="92.7" r="3.05" fill="#f4373c"/>
<text class="leg" x="310.2" y="97.1">S2</text>
<path d="M278.7 108.2H306.8" stroke="#6a9ae8" stroke-width="1"/>
<path d="M293.3 105.25L296.8 111.15L289.8 111.15Z" fill="#1863dc"/>
<text class="leg" x="310.2" y="112.6">S3</text>
<path d="M623.2 76H651.5" stroke="#858585" stroke-width="1"/>
<rect x="634.5" y="73.2" width="5.6" height="5.6" fill="#404040"/>
<text class="leg" x="653.6" y="80.4">S1</text>
<path d="M623.2 91.4H651.5" stroke="#f36a6a" stroke-width="1"/>
<circle cx="637.3" cy="91.4" r="3.05" fill="#f4373c"/>
<text class="leg" x="653.6" y="95.8">S2</text>
<path d="M623.2 106.8H651.5" stroke="#6a9ae8" stroke-width="1"/>
<path d="M637.3 103.85L640.8 109.75L633.8 109.75Z" fill="#1863dc"/>
<text class="leg" x="653.6" y="111.2">S3</text>
<path d="M425.3 442.3H454.1" stroke="#858585" stroke-width="1"/>
<rect x="437" y="439.5" width="5.6" height="5.6" fill="#404040"/>
<text class="leg" x="457.3" y="446.7">S1</text>
<path d="M425.3 458H454.1" stroke="#f36a6a" stroke-width="1"/>
<circle cx="439.8" cy="458" r="3.05" fill="#f4373c"/>
<text class="leg" x="457.3" y="462.4">S2</text>
<path d="M425.3 473.2H454.1" stroke="#6a9ae8" stroke-width="1"/>
<path d="M439.8 470.25L443.3 476.15L436.3 476.15Z" fill="#1863dc"/>
<text class="leg" x="457.3" y="477.6">S3</text>
</svg>
</body></html>
